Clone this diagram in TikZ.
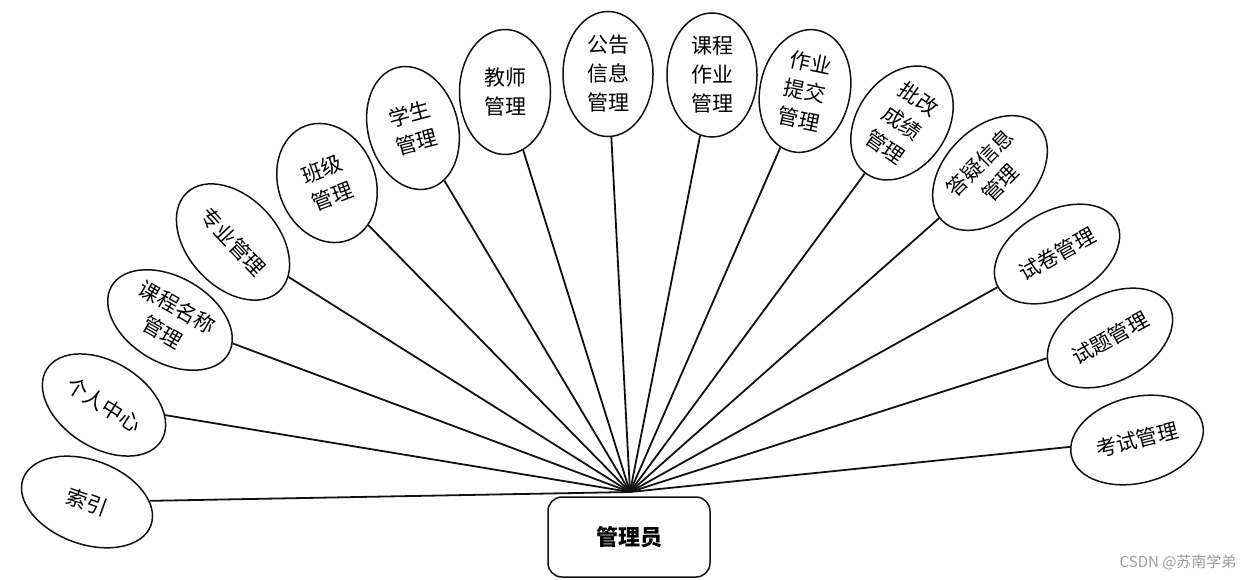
\documentclass[tikz,border=0pt]{standalone}
\usepackage{fontspec}
\usepackage{xcolor}
\usepackage{tikz}
\usetikzlibrary{positioning,shapes.geometric}
\newfontfamily\cjk{Noto Sans CJK SC}
\definecolor{ERInk}{HTML}{111111}
\definecolor{ERMark}{HTML}{9A9A9A}

\tikzset{
  func/.style={ellipse,draw=ERInk,fill=white,line width=1.5pt,inner sep=0pt,
               align=center,font=\cjk\fontsize{21}{29}\selectfont},
  wide/.style={func,minimum width=135pt,minimum height=86pt},
  tall/.style={func,minimum width=90pt,minimum height=124pt},
  role/.style={draw=ERInk,fill=white,line width=1.5pt,rounded corners=14pt,
               minimum width=162pt,minimum height=80pt,
               font=\cjk\bfseries\fontsize{22}{26}\selectfont},
  link/.style={draw=ERInk,line width=1.8pt}
}

\begin{document}
\begin{tikzpicture}[x=1pt,y=-1pt]
        \useasboundingbox (0,0) rectangle (1252,580);

        % role box and the point where the links meet
        \node[role] (admin) at (629,537) {管理员};
        \coordinate (hub) at (630,492);

        % functions, left to right
        \node[wide,minimum width=136pt,minimum height=84pt,rotate=-20]
          (index) at (87,502) {索引};
        \node[wide,rotate=-32] (profile) at (104,405) {个人中心};
        \node[wide,rotate=-30] (coursename) at (170,320) {课程名称\\管理};
        \node[wide,minimum height=90pt,rotate=-47] (major) at (233,242) {专业管理};
        \node[tall,minimum width=97pt,minimum height=122pt,rotate=21]
          (class) at (327,183) {班级\\管理};
        \node[tall,minimum height=125pt,rotate=15] (student) at (413,128) {学生\\管理};
        \node[tall,minimum width=91pt,minimum height=125pt] (teacher) at (505,92) {教师\\管理};
        \node[tall,minimum height=125pt] (notice) at (608,74) {公告\\信息\\管理};
        \node[tall] (homework) at (712,75) {课程\\作业\\管理};
        \node[tall,rotate=-12] (submit) at (805,91) {作业\\提交\\管理};
        \node[tall,rotate=-35] (grading) at (902,123) {批改\\成绩\\管理};
        \node[wide,minimum height=90pt,rotate=45] (qa) at (990,173) {答疑信息\\管理};
        \node[wide,rotate=29] (paper) at (1057,254) {试卷管理};
        \node[wide,rotate=29] (question) at (1110,338) {试题管理};
        \node[wide,rotate=14] (exam) at (1137,440) {考试管理};

        % links
        \draw[link] (hub) -- (index);
        \draw[link] (hub) -- (profile);
        \draw[link] (hub) -- (coursename);
        \draw[link] (hub) -- (major);
        \draw[link] (hub) -- (class);
        \draw[link] (hub) -- (student);
        \draw[link] (hub) -- (teacher);
        \draw[link] (hub) -- (notice);
        \draw[link] (hub) -- (homework);
        \draw[link] (hub) -- (submit);
        \draw[link] (hub) -- (grading);
        \draw[link] (hub) -- (qa);
        \draw[link] (hub) -- (paper);
        \draw[link] (hub) -- (question);
        \draw[link] (hub) -- (exam);

        \node[anchor=east,ERMark,font=\cjk\fontsize{15}{18}\selectfont]
          (mark) at (1240,562) {CSDN @苏南学弟};
      \end{tikzpicture}
\end{document}
